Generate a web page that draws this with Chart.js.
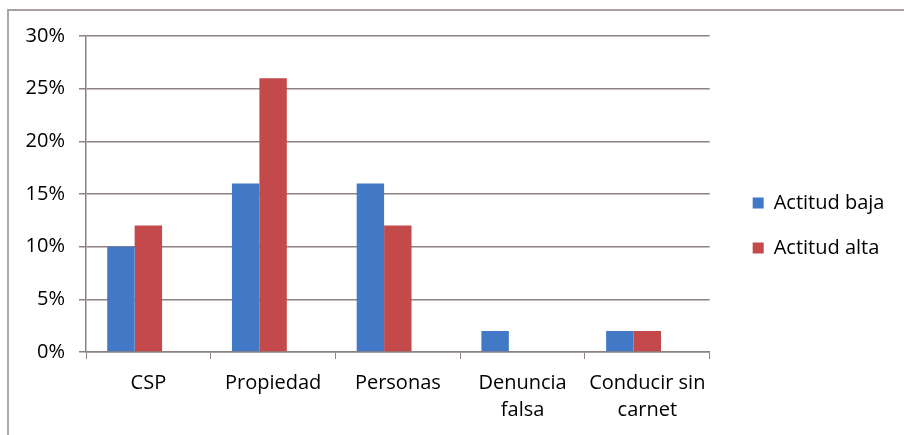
<!DOCTYPE html>
<html><head><meta charset="utf-8">
<script src="https://cdn.jsdelivr.net/npm/chart.js@4"></script>
<style>
html,body{margin:0;padding:0;background:#fff;}
#wrap{position:absolute;left:0;top:0;width:904px;height:435px;}
#frame{position:absolute;left:7px;top:9px;width:897px;height:426px;border-top:2px solid #a8a0a0;border-left:2px solid #b0a8a8;box-sizing:border-box;pointer-events:none;}
canvas{position:absolute;left:0;top:0;}
</style></head><body>
<div id="wrap"><canvas id="c" width="904" height="435"></canvas><div id="frame"></div></div>
<script>
const categories = [["CSP"], ["Propiedad"], ["Personas"], ["Denuncia", "falsa"], ["Conducir sin", "carnet"]];
const seriesNames = ["Actitud baja", "Actitud alta", ""];
const actitudBaja = [10, 16, 16, 2, 2];
const actitudAlta = [12, 26, 12, 0, 2];
const emptySeries = [null, null, null, null, null];
const yTicks = [0, 5, 10, 15, 20, 25, 30];

const FONT = "'Open Sans', sans-serif";
const gridColor = '#8c8282';

const widenLegend = {
  id: 'widenLegend',
  afterInit(chart) {
    const lg = chart.legend;
    if (!lg) return;
    const orig = lg.fit.bind(lg);
    lg.fit = function () { orig(); this.width += 24; };
  },
  afterLayout(chart) {
    const lg = chart.legend;
    if (!lg) return;
    lg.bottom -= 20;
    lg.height -= 20;
  }
};

const chart = new Chart(document.getElementById('c'), {
  type: 'bar',
  data: {
    labels: categories,
    datasets: [
      {label: seriesNames[0], data: actitudBaja, backgroundColor: '#4279c6', borderWidth: 0},
      {label: seriesNames[1], data: actitudAlta, backgroundColor: '#c4494b', borderWidth: 0},
      {label: seriesNames[2], data: emptySeries, backgroundColor: 'rgba(0,0,0,0)', borderWidth: 0}
    ]
  },
  plugins: [widenLegend],
  options: {
    responsive: false,
    animation: false,
    layout: {padding: {left: 0, top: 36, right: 2, bottom: 0}},
    datasets: {bar: {barPercentage: 1.0, categoryPercentage: 0.66}},
    plugins: {
      tooltip: {enabled: false},
      legend: {
        position: 'right',
        align: 'center',
        labels: {
          font: {family: FONT, size: 20},
          color: '#000',
          boxWidth: 11, boxHeight: 11,
          padding: 25,
          useBorderRadius: false,
          filter: (item) => item.datasetIndex < 2
        }
      }
    },
    scales: {
      x: {
        grid: {display: true, drawOnChartArea: false, drawTicks: true, tickLength: 7, color: gridColor, offset: true},
        border: {display: true, color: gridColor, width: 1.5},
        ticks: {font: {family: FONT, size: 20, lineHeight: 1.35}, color: '#000', padding: 11, maxRotation: 0, autoSkip: false}
      },
      y: {
        min: 0, max: 30,
        afterBuildTicks: (s) => { s.ticks = yTicks.map(v => ({value: v})); },
        afterFit: (s) => { s.width = 86; },
        grid: {color: gridColor, lineWidth: 1.5, tickLength: 7},
        border: {display: true, color: gridColor, width: 1.5},
        ticks: {font: {family: FONT, size: 20}, color: '#000', padding: 14, callback: v => v + '%'}
      },
      gap: {
        type: 'linear', position: 'right', display: true,
        grid: {display: false}, border: {display: false}, ticks: {display: false},
        afterFit: (s) => { s.width = 18; }
      }
    }
  }
});
</script>
</body></html>
